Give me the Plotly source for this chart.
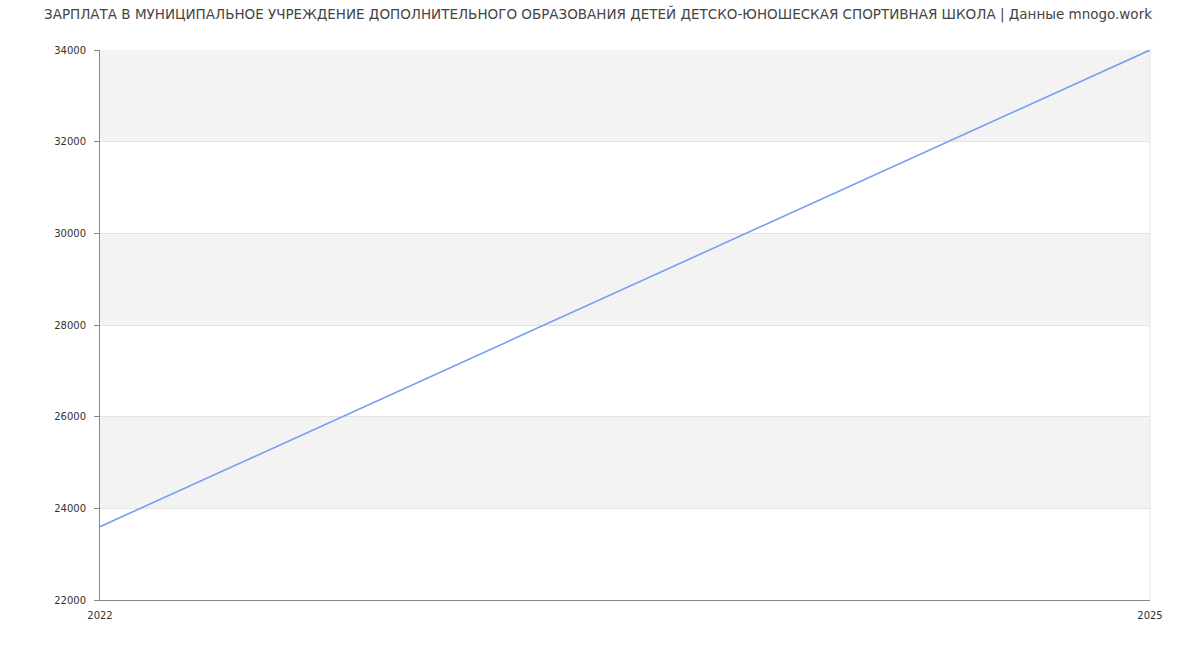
import plotly.graph_objects as go

# Salary data
years = [2022, 2025]
salary = [23600, 34000]

y_ticks = [22000, 24000, 26000, 28000, 30000, 32000, 34000]
shaded_bands = [(24000, 26000), (28000, 30000), (32000, 34000)]

title_text = ("ЗАРПЛАТА В МУНИЦИПАЛЬНОЕ УЧРЕЖДЕНИЕ ДОПОЛНИТЕЛЬНОГО ОБРАЗОВАНИЯ ДЕТЕЙ "
              "ДЕТСКО-ЮНОШЕСКАЯ СПОРТИВНАЯ ШКОЛА | Данные mnogo.work")

fig = go.Figure()

fig.add_trace(go.Scatter(
    x=years,
    y=salary,
    mode='lines',
    line=dict(color='#779ef2', width=1.6),
    hoverinfo='x+y',
    showlegend=False,
))

# alternating grey bands behind the line
for lo, hi in shaded_bands:
    fig.add_shape(type='rect', xref='paper', yref='y', x0=0, x1=1, y0=lo, y1=hi,
                  fillcolor='#f3f3f3', line_width=0, layer='below')

# thin right border of the plot area
fig.add_shape(type='line', xref='paper', yref='paper', x0=1, x1=1, y0=0, y1=1,
              line=dict(color='#e3e3e3', width=1), layer='below')

fig.update_layout(
    width=1200,
    height=650,
    margin=dict(l=100, r=50, t=50, b=50),
    paper_bgcolor='white',
    plot_bgcolor='white',
    font=dict(family='DejaVu Sans', color='#333333', size=10),
    title=dict(text=title_text, x=598 / 1200, xanchor='center', xref='container',
               y=1 - 14 / 650, yanchor='middle', yref='container',
               font=dict(size=13.5, color='#444444')),
    xaxis=dict(
        range=[2022, 2025],
        tickvals=years,
        ticktext=[str(y) for y in years],
        showgrid=False,
        showline=True,
        linecolor='#888888',
        linewidth=1,
        ticks='',
        ticklabelstandoff=6,
        zeroline=False,
        fixedrange=True,
    ),
    yaxis=dict(
        range=[22000, 34000],
        tickvals=y_ticks,
        ticktext=[str(v) for v in y_ticks],
        showgrid=True,
        gridcolor='#e3e3e3',
        gridwidth=1,
        showline=True,
        linecolor='#888888',
        linewidth=1,
        ticks='outside',
        ticklen=5,
        tickcolor='#888888',
        ticklabelstandoff=6,
        zeroline=False,
        fixedrange=True,
    ),
)

# drop the browser's default body margin so the chart sits at the page corner
fig.write_html("out.html", config={'displayModeBar': False},
               post_script="document.body.style.margin = '0';")
